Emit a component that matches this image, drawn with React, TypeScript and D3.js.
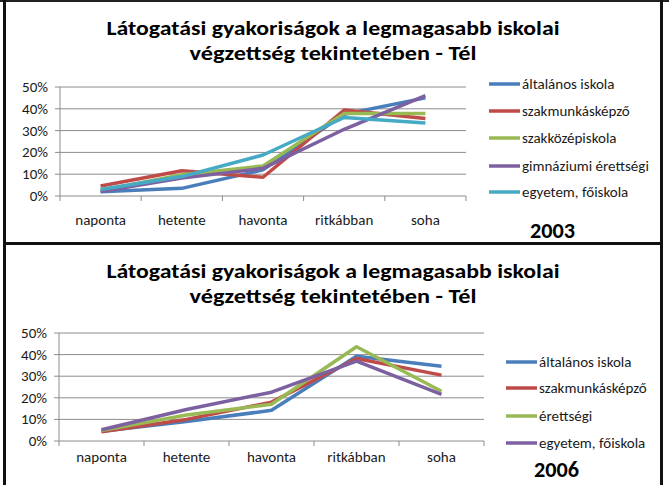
import React, { useEffect, useRef } from "react";
import * as d3 from "d3";

// categories shared by both charts
const categories = ["naponta", "hetente", "havonta", "ritkábban", "soha"];
const yTicks = [0, 10, 20, 30, 40, 50];

const titleLines = [
  "Látogatási gyakoriságok a legmagasabb iskolai",
  "végzettség tekintetében - Tél",
];

// 2003
const names2003 = [
  "általános iskola",
  "szakmunkásképző",
  "szakközépiskola",
  "gimnáziumi érettségi",
  "egyetem, főiskola",
];
const altalanos2003 = [2, 3.5, 12, 37.5, 45];
const szakmunkas2003 = [4.6, 11.6, 8.6, 39.4, 35.5];
const szakkozep2003 = [2.5, 9.8, 13.8, 37.9, 37.8];
const gimnazium2003 = [2, 8.2, 12.7, 30.6, 46];
const egyetem2003 = [3, 8.9, 18.8, 36, 33.5];

// 2006
const names2006 = [
  "általános iskola",
  "szakmunkásképző",
  "érettségi",
  "egyetem, főiskola",
];
const altalanos2006 = [4.5, 9, 14.2, 39.2, 34.6];
const szakmunkas2006 = [4.3, 10, 18, 38.2, 30.5];
const erettsegi2006 = [4.8, 12, 17, 43.6, 23];
const egyetem2006 = [5.2, 14.6, 22.6, 37, 21.6];

const colors = ["#4a7ebb", "#be4b48", "#98b954", "#7d60a0", "#46aac5"];

const FONT = "Carlito, Calibri, Lato, 'Open Sans', sans-serif";
const LABEL_SIZE = 15;

const charts = [
  {
    year: "2003",
    names: names2003,
    values: [altalanos2003, szakmunkas2003, szakkozep2003, gimnazium2003, egyetem2003],
    plot: { left: 60, right: 466, top: 87, bottom: 196 },
    titleY: [35, 60],
    labelY: 225,
    legend: { x: 489, ys: [84, 111, 138, 166, 192] },
    yearPos: { x: 530, y: 238 },
  },
  {
    year: "2006",
    names: names2006,
    values: [altalanos2006, szakmunkas2006, erettsegi2006, egyetem2006],
    plot: { left: 59, right: 484, top: 333, bottom: 441 },
    titleY: [278, 303],
    labelY: 462,
    legend: { x: 506, ys: [362, 388, 416, 443] },
    yearPos: { x: 534, y: 477 },
  },
];

const App = () => {
  const svgRef = useRef(null);

  useEffect(() => {
    const svg = d3.select(svgRef.current);
    svg.selectAll("*").remove();

    svg.append("rect").attr("width", 669).attr("height", 485).attr("fill", "#fff");

    charts.forEach((c) => {
      const g = svg.append("g");
      const x = d3
        .scaleBand()
        .domain(categories)
        .range([c.plot.left, c.plot.right]);
      const y = d3
        .scaleLinear()
        .domain([0, 50])
        .range([c.plot.bottom, c.plot.top]);

      // title
      titleLines.forEach((t, i) => {
        g.append("text")
          .attr("x", 333)
          .attr("y", c.titleY[i])
          .attr("text-anchor", "middle")
          .attr("font-family", FONT)
          .attr("font-weight", "bold")
          .attr("font-size", 20)
          .attr("textLength", i === 0 ? 453 : 287)
          .attr("lengthAdjust", "spacingAndGlyphs")
          .text(t);
      });

      // gridlines
      g.selectAll(".grid")
        .data(yTicks)
        .enter()
        .append("line")
        .attr("x1", c.plot.left - 5)
        .attr("x2", c.plot.right)
        .attr("y1", (d) => y(d))
        .attr("y2", (d) => y(d))
        .attr("stroke", "#8c8c8c")
        .attr("stroke-width", 1);

      // y axis line
      g.append("line")
        .attr("x1", c.plot.left)
        .attr("x2", c.plot.left)
        .attr("y1", c.plot.top)
        .attr("y2", c.plot.bottom)
        .attr("stroke", "#8c8c8c");

      // x ticks at band edges
      const edges = categories.map((d) => x(d)).concat([c.plot.right]);
      g.selectAll(".xtick")
        .data(edges)
        .enter()
        .append("line")
        .attr("x1", (d) => d)
        .attr("x2", (d) => d)
        .attr("y1", c.plot.bottom)
        .attr("y2", c.plot.bottom + 5)
        .attr("stroke", "#8c8c8c");

      // y labels
      g.selectAll(".ylab")
        .data(yTicks)
        .enter()
        .append("text")
        .attr("x", c.plot.left - 12)
        .attr("y", (d) => y(d) + 5)
        .attr("text-anchor", "end")
        .attr("font-family", FONT)
        .attr("font-size", LABEL_SIZE)
        .attr("fill", "#1a1a1a")
        .text((d) => d + "%");

      // x labels
      g.selectAll(".xlab")
        .data(categories)
        .enter()
        .append("text")
        .attr("x", (d) => x(d) + x.bandwidth() / 2)
        .attr("y", c.labelY)
        .attr("text-anchor", "middle")
        .attr("font-family", FONT)
        .attr("font-size", LABEL_SIZE)
        .attr("fill", "#1a1a1a")
        .text((d) => d);

      // lines
      const line = d3
        .line()
        .x((d, i) => x(categories[i]) + x.bandwidth() / 2)
        .y((d) => y(d));

      c.values.forEach((vals, i) => {
        g.append("path")
          .attr("d", line(vals))
          .attr("fill", "none")
          .attr("stroke", colors[i])
          .attr("stroke-width", 3.5)
          .attr("stroke-linejoin", "round");
      });

      // legend
      c.names.forEach((n, i) => {
        const ly = c.legend.ys[i];
        g.append("line")
          .attr("x1", c.legend.x)
          .attr("x2", c.legend.x + 31)
          .attr("y1", ly)
          .attr("y2", ly)
          .attr("stroke", colors[i])
          .attr("stroke-width", 3.5);
        g.append("text")
          .attr("x", c.legend.x + 33)
          .attr("y", ly + 5)
          .attr("font-family", FONT)
          .attr("font-size", LABEL_SIZE)
          .attr("fill", "#1a1a1a")
          .text(n);
      });

      // year
      g.append("text")
        .attr("x", c.yearPos.x)
        .attr("y", c.yearPos.y)
        .attr("font-family", FONT)
        .attr("font-weight", "bold")
        .attr("font-size", 22)
        .attr("textLength", 45)
        .attr("lengthAdjust", "spacingAndGlyphs")
        .text(c.year);
    });

    // frame
    svg.append("line").attr("x1", 0).attr("x2", 669).attr("y1", 1).attr("y2", 1)
      .attr("stroke", "#222").attr("stroke-width", 2);
    svg.append("line").attr("x1", 4.5).attr("x2", 4.5).attr("y1", 0).attr("y2", 485)
      .attr("stroke", "#111").attr("stroke-width", 3);
    svg.append("line").attr("x1", 661.5).attr("x2", 661.5).attr("y1", 0).attr("y2", 485)
      .attr("stroke", "#111").attr("stroke-width", 3);
    svg.append("line").attr("x1", 3).attr("x2", 663).attr("y1", 243.5).attr("y2", 243.5)
      .attr("stroke", "#111").attr("stroke-width", 3);
  }, []);

  return (
    <svg
      ref={svgRef}
      width={669}
      height={485}
      style={{ position: "absolute", left: 0, top: 0 }}
    ></svg>
  );
};

export default App;
